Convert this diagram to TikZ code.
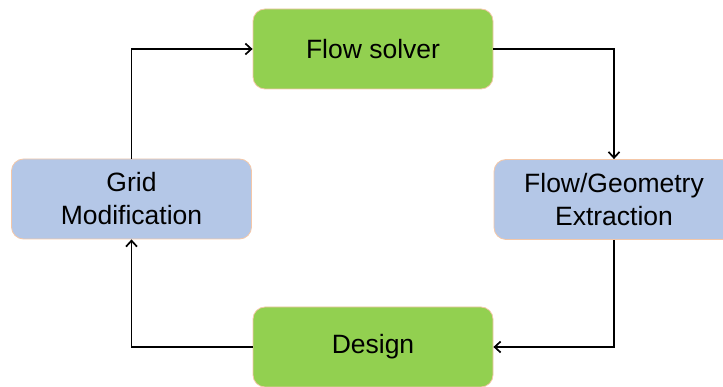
\documentclass[tikz,border=0pt]{standalone}
\usepackage{fontspec}
\setmainfont{Liberation Sans}
\usetikzlibrary{arrows.meta}
\definecolor{boxgreen}{HTML}{92D050}
\definecolor{boxblue}{HTML}{B4C7E7}
\definecolor{boxedge}{HTML}{F4C7A8}
\tikzset{
  stage/.style={draw=boxedge, line width=0.8pt, rounded corners=12pt,
    minimum width=240pt, minimum height=80pt, align=center,
    font=\fontsize{26.5}{33}\selectfont, text=black, inner sep=0pt},
  greenbox/.style={stage, fill=boxgreen},
  bluebox/.style={stage, fill=boxblue},
  flowarrow/.style={draw=black, line width=1.7pt, -{Straight Barb[length=6pt,width=11pt,line width=1.7pt]}}
}
\begin{document}
\begin{tikzpicture}[x=1pt,y=-1pt]
  \useasboundingbox (0,0) rectangle (723,387);
  \node[greenbox] (solver) at (373,49) {Flow solver};
  \node[bluebox] (extract) at (614,199.5) {Flow/Geometry\\Extraction};
  \node[greenbox] (design) at (373,347) {Design};
  \node[bluebox] (grid) at (131.5,199) {Grid\\Modification};

  \draw[flowarrow] (solver.east) -| (extract.north);
  \draw[flowarrow] (extract.south) |- (design.east);
  \draw[flowarrow] (design.west) -| (grid.south);
  \draw[flowarrow] (grid.north) |- (solver.west);
\end{tikzpicture}
\end{document}
